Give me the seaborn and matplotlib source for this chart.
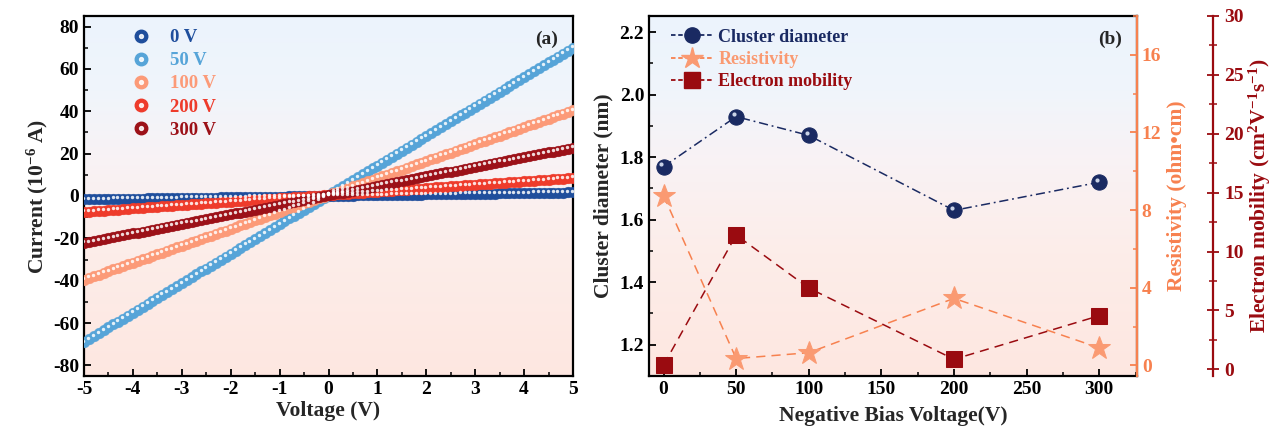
import numpy as np
import pandas as pd
import matplotlib
matplotlib.use("Agg")
import matplotlib.pyplot as plt
import matplotlib.transforms as mtransforms
from matplotlib.lines import Line2D
from matplotlib.legend_handler import HandlerTuple
from matplotlib.ticker import MultipleLocator
import seaborn as sns

# ---------------- data: panel (a) I-V curves ----------------
voltage = [-5.0, -4.9, -4.8, -4.7, -4.6, -4.5, -4.4, -4.3, -4.2, -4.1,
           -4.0, -3.9, -3.8, -3.7, -3.6, -3.5, -3.4, -3.3, -3.2, -3.1,
           -3.0, -2.9, -2.8, -2.7, -2.6, -2.5, -2.4, -2.3, -2.2, -2.1,
           -2.0, -1.9, -1.8, -1.7, -1.6, -1.5, -1.4, -1.3, -1.2, -1.1,
           -1.0, -0.9, -0.8, -0.7, -0.6, -0.5, -0.4, -0.3, -0.2, -0.1,
           0.0, 0.1, 0.2, 0.3, 0.4, 0.5, 0.6, 0.7, 0.8, 0.9,
           1.0, 1.1, 1.2, 1.3, 1.4, 1.5, 1.6, 1.7, 1.8, 1.9,
           2.0, 2.1, 2.2, 2.3, 2.4, 2.5, 2.6, 2.7, 2.8, 2.9,
           3.0, 3.1, 3.2, 3.3, 3.4, 3.5, 3.6, 3.7, 3.8, 3.9,
           4.0, 4.1, 4.2, 4.3, 4.4, 4.5, 4.6, 4.7, 4.8, 4.9, 5.0]

current_0V = [-1.6, -1.567, -1.534, -1.501, -1.468, -1.435, -1.402, -1.369, -1.336, -1.303,
              -1.27, -1.237, -1.204, -1.171, -1.138, -1.105, -1.072, -1.039, -1.006, -0.973,
              -0.94, -0.907, -0.874, -0.841, -0.808, -0.775, -0.742, -0.709, -0.676, -0.643,
              -0.61, -0.577, -0.544, -0.511, -0.478, -0.445, -0.412, -0.379, -0.346, -0.313,
              -0.28, -0.247, -0.214, -0.181, -0.148, -0.115, -0.082, -0.049, -0.016, 0.017,
              0.05, 0.083, 0.116, 0.149, 0.182, 0.215, 0.248, 0.281, 0.314, 0.347,
              0.38, 0.413, 0.446, 0.479, 0.512, 0.545, 0.578, 0.611, 0.644, 0.677,
              0.71, 0.743, 0.776, 0.809, 0.842, 0.875, 0.908, 0.941, 0.974, 1.007,
              1.04, 1.073, 1.106, 1.139, 1.172, 1.205, 1.238, 1.271, 1.304, 1.337,
              1.37, 1.403, 1.436, 1.469, 1.502, 1.535, 1.568, 1.601, 1.634, 1.667, 1.7]

current_50V = [-69.0, -67.61, -66.22, -64.83, -63.44, -62.05, -60.66, -59.27, -57.88, -56.49,
               -55.1, -53.71, -52.32, -50.93, -49.54, -48.15, -46.76, -45.37, -43.98, -42.59,
               -41.2, -39.81, -38.42, -37.03, -35.64, -34.25, -32.86, -31.47, -30.08, -28.69,
               -27.3, -25.91, -24.52, -23.13, -21.74, -20.35, -18.96, -17.57, -16.18, -14.79,
               -13.4, -12.01, -10.62, -9.23, -7.84, -6.45, -5.06, -3.67, -2.28, -0.89,
               0.5, 1.89, 3.28, 4.67, 6.06, 7.45, 8.84, 10.23, 11.62, 13.01,
               14.4, 15.79, 17.18, 18.57, 19.96, 21.35, 22.74, 24.13, 25.52, 26.91,
               28.3, 29.69, 31.08, 32.47, 33.86, 35.25, 36.64, 38.03, 39.42, 40.81,
               42.2, 43.59, 44.98, 46.37, 47.76, 49.15, 50.54, 51.93, 53.32, 54.71,
               56.1, 57.49, 58.88, 60.27, 61.66, 63.05, 64.44, 65.83, 67.22, 68.61, 70.0]

current_100V = [-39.5, -38.7, -37.9, -37.1, -36.3, -35.5, -34.7, -33.9, -33.1, -32.3,
                -31.5, -30.7, -29.9, -29.1, -28.3, -27.5, -26.7, -25.9, -25.1, -24.3,
                -23.5, -22.7, -21.9, -21.1, -20.3, -19.5, -18.7, -17.9, -17.1, -16.3,
                -15.5, -14.7, -13.9, -13.1, -12.3, -11.5, -10.7, -9.9, -9.1, -8.3,
                -7.5, -6.7, -5.9, -5.1, -4.3, -3.5, -2.7, -1.9, -1.1, -0.3,
                0.5, 1.3, 2.1, 2.9, 3.7, 4.5, 5.3, 6.1, 6.9, 7.7,
                8.5, 9.3, 10.1, 10.9, 11.7, 12.5, 13.3, 14.1, 14.9, 15.7,
                16.5, 17.3, 18.1, 18.9, 19.7, 20.5, 21.3, 22.1, 22.9, 23.7,
                24.5, 25.3, 26.1, 26.9, 27.7, 28.5, 29.3, 30.1, 30.9, 31.7,
                32.5, 33.3, 34.1, 34.9, 35.7, 36.5, 37.3, 38.1, 38.9, 39.7, 40.5]

current_200V = [-7.5, -7.34, -7.18, -7.02, -6.86, -6.7, -6.54, -6.38, -6.22, -6.06,
                -5.9, -5.74, -5.58, -5.42, -5.26, -5.1, -4.94, -4.78, -4.62, -4.46,
                -4.3, -4.14, -3.98, -3.82, -3.66, -3.5, -3.34, -3.18, -3.02, -2.86,
                -2.7, -2.54, -2.38, -2.22, -2.06, -1.9, -1.74, -1.58, -1.42, -1.26,
                -1.1, -0.94, -0.78, -0.62, -0.46, -0.3, -0.14, 0.02, 0.18, 0.34,
                0.5, 0.66, 0.82, 0.98, 1.14, 1.3, 1.46, 1.62, 1.78, 1.94,
                2.1, 2.26, 2.42, 2.58, 2.74, 2.9, 3.06, 3.22, 3.38, 3.54,
                3.7, 3.86, 4.02, 4.18, 4.34, 4.5, 4.66, 4.82, 4.98, 5.14,
                5.3, 5.46, 5.62, 5.78, 5.94, 6.1, 6.26, 6.42, 6.58, 6.74,
                6.9, 7.06, 7.22, 7.38, 7.54, 7.7, 7.86, 8.02, 8.18, 8.34, 8.5]

current_300V = [-22.2, -21.75, -21.3, -20.85, -20.4, -19.95, -19.5, -19.05, -18.6, -18.15,
                -17.7, -17.25, -16.8, -16.35, -15.9, -15.45, -15.0, -14.55, -14.1, -13.65,
                -13.2, -12.75, -12.3, -11.85, -11.4, -10.95, -10.5, -10.05, -9.6, -9.15,
                -8.7, -8.25, -7.8, -7.35, -6.9, -6.45, -6.0, -5.55, -5.1, -4.65,
                -4.2, -3.75, -3.3, -2.85, -2.4, -1.95, -1.5, -1.05, -0.6, -0.15,
                0.3, 0.75, 1.2, 1.65, 2.1, 2.55, 3.0, 3.45, 3.9, 4.35,
                4.8, 5.25, 5.7, 6.15, 6.6, 7.05, 7.5, 7.95, 8.4, 8.85,
                9.3, 9.75, 10.2, 10.65, 11.1, 11.55, 12.0, 12.45, 12.9, 13.35,
                13.8, 14.25, 14.7, 15.15, 15.6, 16.05, 16.5, 16.95, 17.4, 17.85,
                18.3, 18.75, 19.2, 19.65, 20.1, 20.55, 21.0, 21.45, 21.9, 22.35, 22.8]

iv_labels = ["0 V", "50 V", "100 V", "200 V", "300 V"]

# ---------------- data: panel (b) ----------------
bias_voltage = [0, 50, 100, 200, 300]
cluster_diameter = [1.77, 1.93, 1.87, 1.63, 1.72]
resistivity = [8.75, 0.35, 0.65, 3.45, 0.9]
electron_mobility = [0.35, 11.4, 6.9, 0.85, 4.55]

# ---------------- styling ----------------
sns.set_theme(style="ticks")
plt.rcParams["font.family"] = ["Liberation Serif", "DejaVu Serif"]
plt.rcParams["font.weight"] = "bold"
plt.rcParams["axes.labelweight"] = "bold"
plt.rcParams["axes.unicode_minus"] = False
plt.rcParams["mathtext.fontset"] = "custom"
plt.rcParams["mathtext.rm"] = "Liberation Serif:bold"
plt.rcParams["mathtext.it"] = "Liberation Serif:bold:italic"
plt.rcParams["mathtext.bf"] = "Liberation Serif:bold"
plt.rcParams["mathtext.default"] = "rm"

iv_colors = ["#1f4e9c", "#56a4d8", "#fc9a78", "#ee3b2b", "#9c1118"]
c_cluster = "#1a2a62"
c_res = "#fa9a72"
c_res_axis = "#f7814f"
c_mob = "#9a0b10"

FS_TICK = 14
FS_LAB = 15.5

fig = plt.figure(figsize=(12.71, 4.32), dpi=100)
axA = fig.add_axes([84 / 1271, 56 / 432, 489 / 1271, 360 / 432])
axB = fig.add_axes([649 / 1271, 56 / 432, 488 / 1271, 360 / 432])


def gradient_bg(ax):
    cols = np.array([
        [0.995, 0.905, 0.880],
        [0.990, 0.930, 0.915],
        [0.975, 0.950, 0.960],
        [0.940, 0.960, 0.985],
        [0.925, 0.955, 0.990],
    ])
    pos = np.array([0.0, 0.35, 0.6, 0.8, 1.0])
    t = np.linspace(0, 1, 256)
    img = np.stack([np.interp(t, pos, cols[:, i]) for i in range(3)], axis=1)
    img = img[:, None, :]
    ax.imshow(img, extent=[0, 1, 0, 1], transform=ax.transAxes, origin="lower",
              aspect="auto", zorder=0, interpolation="bicubic")


def style_ticks(ax, which_axis="both", color="black"):
    ax.tick_params(axis=which_axis, which="major", direction="in", length=5, width=1.3,
                   labelsize=FS_TICK, color=color, labelcolor=color)
    ax.tick_params(axis=which_axis, which="minor", direction="in", length=3, width=1.1,
                   color=color)


# ---------------- panel (a) ----------------
gradient_bg(axA)
series = [current_0V, current_50V, current_100V, current_200V, current_300V]
hl = mtransforms.offset_copy(axA.transData, fig=fig, x=-0.6, y=1.1, units="points")
for cur, col in zip(series, iv_colors):
    df = pd.DataFrame({"V": voltage, "I": cur})
    sns.scatterplot(data=df, x="V", y="I", ax=axA, color=col, s=60, edgecolor=col,
                    linewidth=0.3, zorder=3, legend=False)
    axA.scatter(df["V"], df["I"], s=6, color="white", alpha=0.85, linewidths=0,
                transform=hl, zorder=4)

axA.set_xlim(-5, 5)
axA.set_ylim(-85, 85)
axA.xaxis.set_major_locator(MultipleLocator(1))
axA.xaxis.set_minor_locator(MultipleLocator(0.5))
axA.yaxis.set_major_locator(MultipleLocator(20))
axA.yaxis.set_minor_locator(MultipleLocator(10))
style_ticks(axA)
for sp in axA.spines.values():
    sp.set_linewidth(1.6)
    sp.set_color("black")
axA.set_xlabel("Voltage (V)", fontsize=FS_LAB, labelpad=2)
axA.set_ylabel("Current (10$^{-6}$ A)", fontsize=FS_LAB, labelpad=2)
for lab in axA.get_xticklabels() + axA.get_yticklabels():
    lab.set_fontweight("bold")
axA.text(0.97, 0.96, "(a)", transform=axA.transAxes, ha="right", va="top",
         fontsize=FS_TICK, fontweight="bold")

handlesA = []
for col in iv_colors:
    h1 = Line2D([], [], linestyle="none", marker="o", markersize=9, color=col,
                markeredgecolor=col)
    h2 = Line2D([], [], linestyle="none", marker="o", markersize=2.8, color="white",
                markeredgecolor="white", alpha=0.85)
    handlesA.append((h1, h2))
legA = axA.legend(handlesA, iv_labels, handler_map={tuple: HandlerTuple(ndivide=1)},
                  loc="upper left", bbox_to_anchor=(0.065, 1.0), frameon=False,
                  fontsize=13.5, handlelength=1.3, handletextpad=0.9,
                  labelspacing=0.32, borderaxespad=0.3)
for txt, col in zip(legA.get_texts(), iv_colors):
    txt.set_color(col)
    txt.set_fontweight("bold")

# ---------------- panel (b) ----------------
gradient_bg(axB)
axR = axB.twinx()
axM = axB.twinx()
axM.spines["right"].set_position(("axes", 1.156))

dfb = pd.DataFrame({"bias": bias_voltage, "d": cluster_diameter,
                    "rho": resistivity, "mu": electron_mobility})

sns.lineplot(data=dfb, x="bias", y="d", ax=axB, color=c_cluster, linestyle=(0, (6, 2.5, 1.2, 2.5)),
             linewidth=1.1, marker="o", markersize=11, markeredgecolor=c_cluster,
             zorder=4, legend=False)
hlB = mtransforms.offset_copy(axB.transData, fig=fig, x=-1.6, y=1.6, units="points")
axB.scatter(dfb["bias"], dfb["d"], s=9, color="#c9d2e6", linewidths=0, transform=hlB, zorder=5)

sns.lineplot(data=dfb, x="bias", y="rho", ax=axR, color=c_res_axis, linestyle=(0, (6, 4)),
             linewidth=1.1, marker="*", markersize=17, markeredgecolor=c_res,
             markerfacecolor=c_res, zorder=4, legend=False)
sns.lineplot(data=dfb, x="bias", y="mu", ax=axM, color=c_mob, linestyle=(0, (6, 4)),
             linewidth=1.1, marker="s", markersize=11, markeredgecolor=c_mob,
             markerfacecolor=c_mob, zorder=4, legend=False)

axB.set_xlim(-10, 326)
axB.set_ylim(1.1, 2.252)
axR.set_ylim(-0.55, 18)
axM.set_ylim(-0.57, 30)

axB.xaxis.set_major_locator(MultipleLocator(50))
axB.xaxis.set_minor_locator(MultipleLocator(25))
axB.yaxis.set_major_locator(MultipleLocator(0.2))
axB.yaxis.set_minor_locator(MultipleLocator(0.1))
axR.yaxis.set_major_locator(MultipleLocator(4))
axR.yaxis.set_minor_locator(MultipleLocator(2))
axM.yaxis.set_major_locator(MultipleLocator(5))
axM.yaxis.set_minor_locator(MultipleLocator(2.5))

style_ticks(axB)
axB.tick_params(axis="y", which="both", right=False)
style_ticks(axR, "y", c_res_axis)
style_ticks(axM, "y", c_mob)
axM.tick_params(axis="y", which="major", direction="inout", length=9)
axM.tick_params(axis="y", which="minor", direction="inout", length=6)

for sp in axB.spines.values():
    sp.set_linewidth(1.6)
    sp.set_color("black")
for name, sp in axR.spines.items():
    sp.set_linewidth(1.6)
    if name == "right":
        sp.set_color(c_res_axis)
    else:
        sp.set_visible(False)
for name, sp in axM.spines.items():
    sp.set_linewidth(1.6)
    if name == "right":
        sp.set_color(c_mob)
    else:
        sp.set_visible(False)

axB.set_xlabel("Negative Bias Voltage(V)", fontsize=FS_LAB, labelpad=6)
axB.set_ylabel("Cluster diameter (nm)", fontsize=FS_LAB, labelpad=4)
axR.set_ylabel("Resistivity (ohm\u2022cm)", fontsize=FS_LAB, color=c_res_axis, labelpad=4)
axM.set_ylabel("Electron mobility (cm$^{2}$V$^{-1}$s$^{-1}$)", fontsize=FS_LAB, color=c_mob,
               labelpad=2)
for ax in (axB, axR, axM):
    for lab in ax.get_xticklabels() + ax.get_yticklabels():
        lab.set_fontweight("bold")

axB.text(0.97, 0.96, "(b)", transform=axB.transAxes, ha="right", va="top",
         fontsize=FS_TICK, fontweight="bold")

handlesB = [
    Line2D([], [], color=c_cluster, linestyle=(0, (2.5, 1.5)), linewidth=1.3, marker="o",
           markersize=11, markeredgecolor=c_cluster),
    Line2D([], [], color=c_res_axis, linestyle=(0, (2.5, 1.5)), linewidth=1.3, marker="*",
           markersize=16, markerfacecolor=c_res, markeredgecolor=c_res),
    Line2D([], [], color=c_mob, linestyle=(0, (2.5, 1.5)), linewidth=1.3, marker="s",
           markersize=11, markerfacecolor=c_mob, markeredgecolor=c_mob),
]
legB = axB.legend(handlesB, ["Cluster diameter", "Resistivity", "Electron mobility"],
                  loc="upper left", bbox_to_anchor=(0.02, 1.0), frameon=False,
                  fontsize=13, handlelength=2.3, handletextpad=0.3,
                  labelspacing=0.3, borderaxespad=0.3)
for txt, col in zip(legB.get_texts(), [c_cluster, c_res, c_mob]):
    txt.set_color(col)
    txt.set_fontweight("bold")
legB.set_zorder(10)

fig.savefig("out.png", dpi=100)
